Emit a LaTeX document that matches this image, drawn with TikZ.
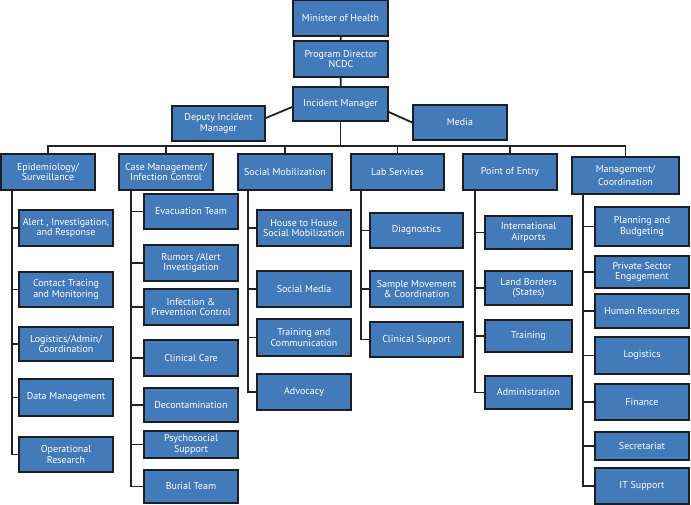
\documentclass[tikz,border=0pt]{standalone}
\usepackage{fontspec}
\setmainfont{PT Sans}
\usepackage{tikz}
\usetikzlibrary{calc}
\definecolor{boxblue}{RGB}{66,122,186}
\definecolor{boxline}{RGB}{28,30,34}
\definecolor{linkline}{RGB}{34,34,34}
\begin{document}
\begin{tikzpicture}[x=1pt,y=-1pt, every node/.style={font=\fontsize{10}{10.8}\selectfont}]
\tikzstyle{box}=[draw=boxline, fill=boxblue, text=white, line width=1.6pt, minimum width=94, minimum height=36, align=center, inner sep=1pt]
\tikzstyle{link}=[draw=linkline, line width=1.8pt]
\useasboundingbox (0,0) rectangle (691,505);
% top of the chart
\node[box, minimum width=95] (mh) at (340.5,18) {Minister of Health};
\node[box] (pd) at (341,59) {Program Director\\NCDC};
\node[box, minimum width=95, minimum height=34] (im) at (340.5,104) {Incident Manager};
\node[box, minimum width=93, minimum height=35] (dep) at (218.5,123.5) {Deputy Incident\\Manager};
\node[box, minimum height=35] (media) at (460,122.5) {Media};
\draw[link] (mh)--(pd); \draw[link] (pd)--(im);
\draw[link] ([yshift=5.5pt]dep.east)--([yshift=-3pt]im.west);
\draw[link] ([yshift=-8pt]im.east)--(media.west);
% sections
\node[box] (epi) at (48,172) {Epidemiology/\\Surveillance};
\node[box] (case) at (166,172) {Case Management/\\Infection Control};
\node[box] (soc) at (285,172) {Social Mobilization};
\node[box, minimum width=93] (lab) at (397.5,172) {Lab Services};
\node[box] (poe) at (510,172) {Point of Entry};
\node[box, minimum width=107, minimum height=37] (mgmt) at (625.5,175.5) {Management/\\[3pt]Coordination};
\coordinate (bus) at (0,146);
\draw[link] (im)--(im.south |- bus);
\draw[link] (epi.north)--(epi.north |- bus)-|(mgmt.north);
\foreach \s in {case,soc,lab,poe} \draw[link] (\s.north)--(\s.north |- bus);
% epidemiology
\node[box] (alert) at (66,228) {Alert , Investigation,\\and Response};
\node[box, minimum height=35] (contact) at (66,289.5) {Contact Tracing\\and Monitoring};
\node[box, minimum height=34] (logadm) at (66,344) {Logistics/Admin/\\Coordination};
\node[box, minimum height=37] (data) at (66,397.5) {Data Management};
\node[box, minimum height=35] (opres) at (66,454.5) {Operational\\Research};
\coordinate (epiT) at (12,190);
\foreach \c in {alert,contact,logadm,data,opres} \draw[link] (epiT)|-(\c.west);
% case management
\node[box, minimum height=35] (evac) at (191,211.5) {Evacuation Team};
\node[box] (rumor) at (191,263) {Rumors /Alert\\Investigation};
\node[box] (infprev) at (191,307) {Infection \&\\Prevention Control};
\node[box] (clin) at (191,358) {Clinical Care};
\node[box, minimum height=34] (decon) at (191,405) {Decontamination};
\node[box, minimum height=27] (psych) at (191,444.5) {Psychosocial\\Support};
\node[box, minimum height=33] (burial) at (191,486.5) {Burial Team};
\coordinate (caseT) at (131,190);
\foreach \c in {evac,rumor,infprev,clin,decon,psych,burial} \draw[link] (caseT)|-(\c.west);
% social mobilization
\node[box] (h2h) at (304,228) {House to House\\Social Mobilization};
\node[box] (smedia) at (304,289) {Social Media};
\node[box, minimum height=37] (train) at (304,337.5) {Training and\\Communication};
\node[box] (advoc) at (304,392) {Advocacy};
\coordinate (socT) at (248,190);
\foreach \c in {h2h,smedia,train,advoc} \draw[link] (socT)|-(\c.west);
% lab services
\node[box, minimum width=93, minimum height=35] (diag) at (416.5,230.5) {Diagnostics};
\node[box, minimum width=93] (sample) at (416.5,289) {Sample Movement\\\& Coordination};
\node[box, minimum width=93, minimum height=35] (clsup) at (416.5,339.5) {Clinical Support};
\coordinate (labT) at (361,190);
\foreach \c in {diag,sample,clsup} \draw[link] (labT)|-(\c.west);
% point of entry
\node[box, minimum width=87, minimum height=33] (intair) at (528.5,232.5) {International\\Airports};
\node[box, minimum width=87, minimum height=34] (land) at (528.5,288) {Land Borders\\(States)};
\node[box, minimum width=87, minimum height=32] (ptrain) at (528.5,336) {Training};
\node[box, minimum width=87, minimum height=33] (admin) at (528.5,392.5) {Administration};
\coordinate (poeT) at (475,190);
\foreach \c in {intair,land,ptrain,admin} \draw[link] (poeT)|-(\c.west);
% management
\node[box, minimum height=39] (plan) at (642,226.5) {Planning and\\Budgeting};
\node[box, minimum height=32] (priv) at (642,272) {Private Sector\\Engagement};
\node[box, minimum height=34] (hr) at (642,311) {Human Resources};
\node[box, minimum height=37] (mlog) at (642,355.5) {Logistics};
\node[box] (fin) at (642,402) {Finance};
\node[box, minimum height=28] (sec) at (642,446) {Secretariat};
\node[box] (it) at (642,486) {IT Support};
\coordinate (mgmtT) at (583,194);
\foreach \c in {plan,priv,hr,mlog,fin,sec,it} \draw[link] (mgmtT)|-(\c.west);
\end{tikzpicture}
\end{document}
